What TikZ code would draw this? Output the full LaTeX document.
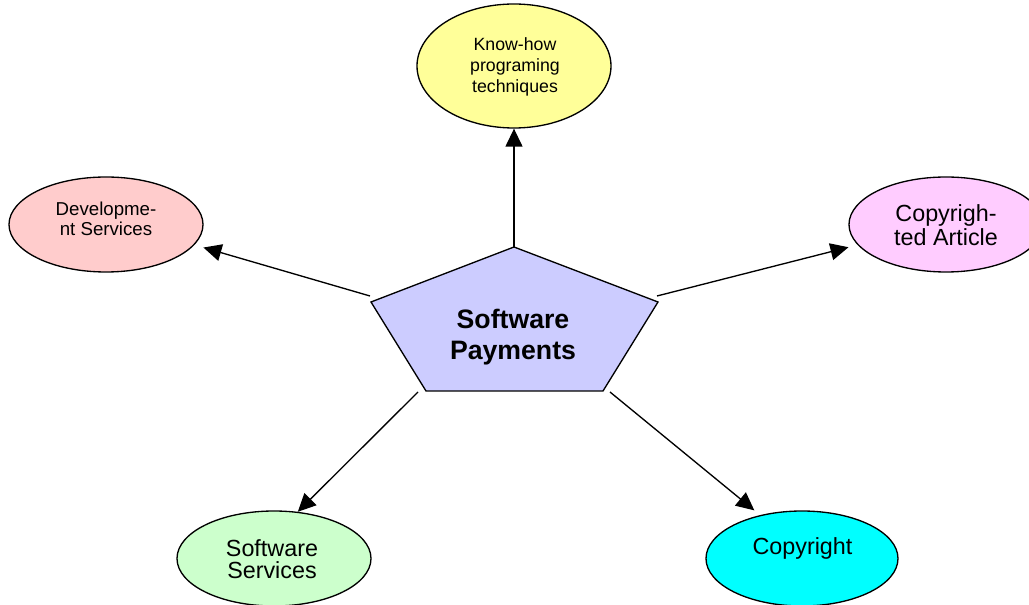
\documentclass[tikz,border=0pt]{standalone}
\usepackage{fontspec}
\setmainfont{Liberation Sans}
\usetikzlibrary{shapes.geometric,arrows.meta}
\definecolor{cyel}{HTML}{FFFF99}
\definecolor{cpink}{HTML}{FFCCCC}
\definecolor{cmag}{HTML}{FFCCFF}
\definecolor{cgreen}{HTML}{CCFFCC}
\definecolor{ccyan}{HTML}{00FFFF}
\definecolor{cpent}{HTML}{CCCCFF}
\begin{document}
\begin{tikzpicture}[x=0.75pt,y=-0.75pt,
  bubble/.style={ellipse, draw=black, line width=1pt, inner sep=0pt, minimum width=145.5pt, minimum height=71.25pt},
  lbl/.style={align=center, inner sep=0pt, anchor=base},
  conn/.style={line width=1pt, -{Triangle[length=13.5pt,width=12.75pt]}},
  penta/.style={draw=black, line width=1pt, fill=cpent, line join=miter}]
\useasboundingbox (0,0) rectangle (1029,605);
\fill[white] (0,0) rectangle (1029,605);

% ellipses
\node[bubble, fill=cyel, minimum height=93pt] (know) at (514,66) {};
\node[bubble, fill=cpink] (dev) at (106,224.5) {};
\node[bubble, fill=cmag] (art) at (946,224.5) {};
\node[bubble, fill=cgreen] (soft) at (274,558.5) {};
\node[bubble, fill=ccyan, minimum width=144pt] (copy) at (802,558.5) {};

% pentagon
\draw[penta] (514,247) -- (658,302) -- (603,391) -- (426,391) -- (371,302) -- cycle;

% labels (anchor base = baseline of the last line)
\node[lbl, font=\fontsize{13.3pt}{15.75pt}\selectfont] (knowt) at (515,92.7) {Know-how\\programing\\techniques};
\node[lbl, font=\fontsize{14pt}{15.2pt}\selectfont] (devt) at (106,236) {Developme-\\nt Services};
\node[lbl, font=\fontsize{17.5pt}{18pt}\selectfont] (artt) at (946,245.5) {Copyrigh-\\ted Article};
\node[lbl, font=\fontsize{17.5pt}{16.2pt}\selectfont] (softt) at (272,578.3) {Software\\Services};
\node[lbl, font=\fontsize{17.5pt}{17pt}\selectfont] (copyt) at (802.5,555) {Copyright};
\node[lbl, font=\bfseries\fontsize{20pt}{23.25pt}\selectfont] (pay) at (513,359.3) {Software\\Payments};

% connector start points on the pentagon
\coordinate (sTop) at (514,247);
\coordinate (sLeft) at (370,296);
\coordinate (sRight) at (657,296);
\coordinate (sBL) at (418,392);
\coordinate (sBR) at (610,392);

% connectors
\draw[conn] (sTop) -- (know.south);
\draw[conn, shorten >=7pt] (sLeft) -- (dev.-13.6);
\draw[conn, shorten >=7pt] (sRight) -- (art.193.7);
\draw[conn] (sBL) -- (soft.63.5);
\draw[conn, shorten >=5.6pt] (sBR) -- (copy.134.7);
\end{tikzpicture}
\end{document}
